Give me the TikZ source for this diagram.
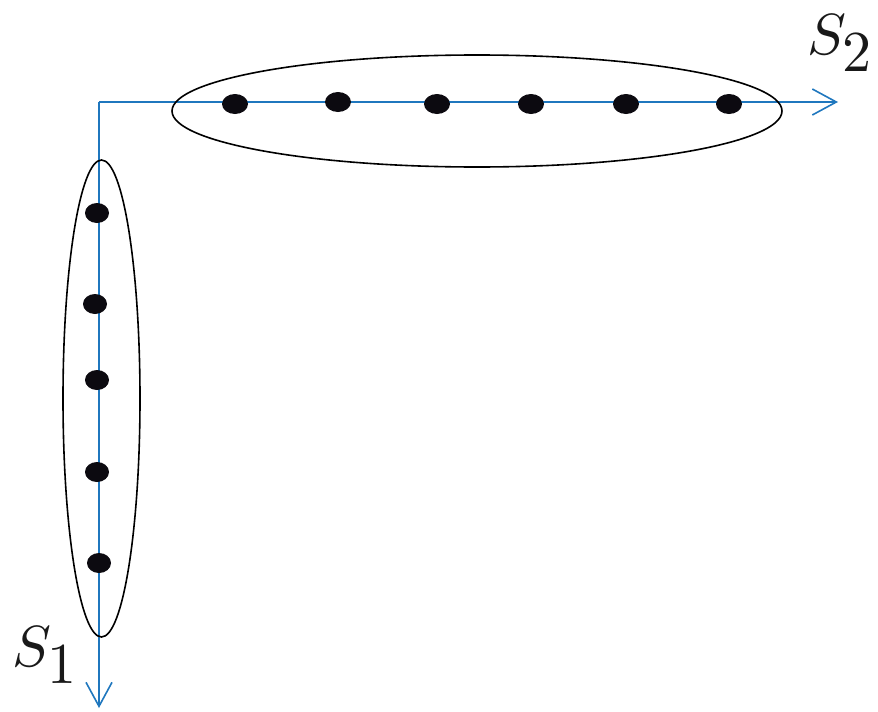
\documentclass[tikz,border=0pt]{standalone}
\usetikzlibrary{arrows.meta}
\definecolor{axblue}{RGB}{31,119,190}
\definecolor{dotc}{RGB}{12,10,16}
\begin{document}
\begin{tikzpicture}[x=1pt,y=-1pt,
  axis/.style={draw=axblue,line width=1.6pt,-{Straight Barb[length=24pt,width=26pt,line width=1.6pt]}},
  grp/.style={draw=black,line width=1.6pt},
  lbl/.style={scale=5.8,text=black!90,anchor=base west,inner sep=0pt}]
\useasboundingbox (0,0) rectangle (878,712);
\coordinate (o) at (99,102);
\coordinate (e2) at (838,102);
\coordinate (e1) at (99,708);
\draw[axis] (o) -- (e2);
\draw[axis] (o) -- (e1);
\draw[grp] (477,111) ellipse [x radius=305, y radius=56];
\draw[grp] (101.5,398.5) ellipse [x radius=38.5, y radius=238.5];
\foreach \x/\y in {235/104,338/102,437/104,531/104,626/104,729/104}
  \fill[dotc] (\x,\y) ellipse [x radius=13, y radius=10];
\foreach \x/\y in {97/213,95/304,97/380,97/472,99/563}
  \fill[dotc] (\x,\y) ellipse [x radius=12, y radius=10];
\node[lbl] (s2) at (806,54) {$S_{\textstyle 2}$};
\node[lbl] (s1) at (11,666) {$S_{\textstyle 1}$};
\end{tikzpicture}
\end{document}
